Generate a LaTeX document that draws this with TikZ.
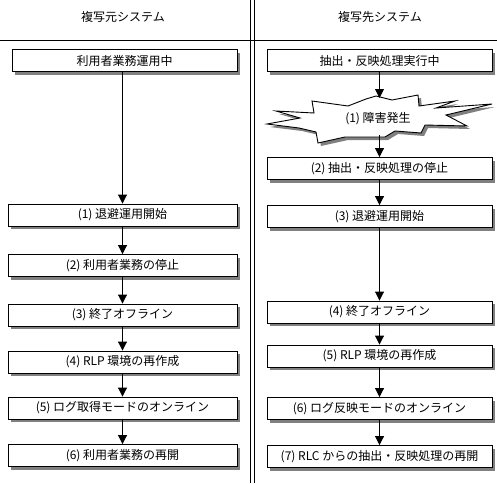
\documentclass[tikz,border=0pt]{standalone}
\usepackage{fontspec}
\newfontfamily\jp{Noto Sans CJK JP}
\usetikzlibrary{arrows.meta,shadows}
\definecolor{shgray}{RGB}{128,128,128}
\begin{document}
\begin{tikzpicture}[x=1pt,y=-1pt,
  txt/.style={font=\jp\fontsize{12}{14}\selectfont},
  box/.style={txt,draw=black,fill=white,line width=0.9pt,rectangle,inner sep=0pt,
    minimum height=22pt,
    drop shadow={shadow xshift=3pt,shadow yshift=-3pt,fill=shgray,opacity=1}},
  lbox/.style={box,minimum width=229pt},
  rbox/.style={box,minimum width=225pt},
  arr/.style={-{Triangle[width=9pt,length=9pt]},line width=0.9pt},
  frame/.style={line width=0.9pt}]
\useasboundingbox (0,0) rectangle (497,483);
\fill[white] (0,0) rectangle (497,483);
% frame lines
\draw[frame] (0,40) -- (497,40);
\draw[frame] (250.5,0) -- (250.5,483);
\draw[frame] (254,0) -- (254,483);
% headers
\node[txt] (hL) at (123,17) {複写元システム};
\node[txt] (hR) at (380,17) {複写先システム};
% left column
\node[box,minimum width=225pt] (L0) at (124.5,60.5) {利用者業務運用中};
\node[lbox] (L1) at (122.5,215) {(1) 退避運用開始};
\node[lbox] (L2) at (122.5,265.5) {(2) 利用者業務の停止};
\node[lbox] (L3) at (122.5,315) {(3) 終了オフライン};
\node[lbox] (L4) at (122.5,362) {(4) RLP 環境の再作成};
\node[lbox] (L5) at (122.5,408) {(5) ログ取得モードのオンライン};
\node[lbox] (L6) at (122.5,455.5) {(6) 利用者業務の再開};
% right column
\node[rbox] (R0) at (379.5,60.5) {抽出・反映処理実行中};
% burst
\fill[shgray,shift={(3,3)}] (312,101) -- (348,106) -- (366,99) -- (376,96) -- (392,100) -- (418,95) -- (419,106) -- (455,101) -- (436,108) -- (492,104) -- (446,115) -- (467,126) -- (425,125) -- (421,133) -- (395,131) -- (385,137) -- (345,137) -- (318,143) -- (316,132) -- (299,128) -- (267,124) -- (300,118) -- (276,111) -- (314,113) -- cycle;
\draw[fill=white,line width=0.9pt] (312,101) -- (348,106) -- (366,99) -- (376,96) -- (392,100) -- (418,95) -- (419,106) -- (455,101) -- (436,108) -- (492,104) -- (446,115) -- (467,126) -- (425,125) -- (421,133) -- (395,131) -- (385,137) -- (345,137) -- (318,143) -- (316,132) -- (299,128) -- (267,124) -- (300,118) -- (276,111) -- (314,113) -- cycle;
\node[txt] (R1) at (378,119) {(1) 障害発生};
\coordinate (bTop) at (379.5,98);
\coordinate (bBot) at (379.5,135);
\node[rbox] (R2) at (379.5,168.5) {(2) 抽出・反映処理の停止};
\node[rbox] (R3) at (379.5,216.5) {(3) 退避運用開始};
\node[rbox] (R4) at (379.5,312) {(4) 終了オフライン};
\node[rbox] (R5) at (379.5,356) {(5) RLP 環境の再作成};
\node[rbox] (R6) at (379.5,408.5) {(6) ログ反映モードのオンライン};
\node[rbox] (R7) at (379.5,456.5) {(7) RLC からの抽出・反映処理の再開};
% left arrows
\draw[arr] (L1.north |- L0.south) -- (L1.north);
\draw[arr] (L1) -- (L2);
\draw[arr] (L2) -- (L3);
\draw[arr] (L3) -- (L4);
\draw[arr] (L4) -- (L5);
\draw[arr] (L5) -- (L6);
% right arrows
\draw[arr] (R0.south) -- (bTop);
\draw[arr] (bBot) -- (R2.north);
\draw[arr] (R2) -- (R3);
\draw[arr] (R3) -- (R4);
\draw[arr] (R4) -- (R5);
\draw[arr] (R5) -- (R6);
\draw[arr] (R6) -- (R7);
\end{tikzpicture}
\end{document}
